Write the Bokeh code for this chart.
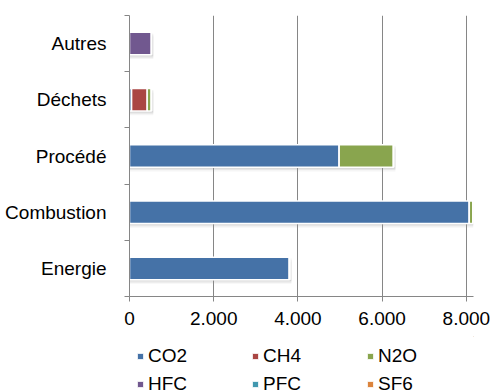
from bokeh.plotting import figure
from bokeh.layouts import column
from bokeh.models import (ColumnDataSource, Range1d, FixedTicker, Legend, LegendItem)
from bokeh.transform import dodge
from bokeh.embed import file_html
from bokeh.resources import INLINE

# Emissions by sector and gas
categories = ["Energie", "Combustion", "Procédé", "Déchets", "Autres"]
gases = ["CO2", "CH4", "N2O", "HFC", "PFC", "SF6"]
co2 = [3800, 8070, 4980, 50, 0]
ch4 = [0, 0, 0, 370, 0]
n2o = [0, 90, 1290, 100, 0]
hfc = [0, 0, 0, 0, 520]
pfc = [0, 0, 0, 0, 0]
sf6 = [0, 0, 0, 0, 0]
x_ticks = [0, 2000, 4000, 6000, 8000]
x_tick_labels = ["0", "2.000", "4.000", "6.000", "8.000"]

colors = ["#4572A7", "#AA4643", "#89A54E", "#71588F", "#4198AF", "#DB843D"]
FONT = "Liberation Sans"
GREY = "#868686"

y = [i + 0.5 for i in range(len(categories))]
total = [sum(v) for v in zip(co2, ch4, n2o, hfc, pfc, sf6)]
source = ColumnDataSource(dict(y=y, total=total, CO2=co2, CH4=ch4, N2O=n2o,
                               HFC=hfc, PFC=pfc, SF6=sf6))

p = figure(width=491, height=336, output_backend="svg", toolbar_location=None,
           x_range=Range1d(0, 8170), y_range=Range1d(0, len(categories)),
           min_border_left=129, min_border_right=18, min_border_top=15,
           min_border_bottom=40)
p.outline_line_color = None

# soft drop shadow under each bar
for off, alpha in [(-0.075, 0.10), (-0.05, 0.16), (-0.025, 0.2)]:
    p.hbar(y=dodge("y", off), left=0, right=dodge("total", 45), height=0.4,
           source=source, fill_color="#9a9a9a", fill_alpha=alpha, line_color=None)

p.hbar_stack(gases, y="y", height=0.4, color=colors, source=source,
             line_color="white", line_width=1.5)

# x axis
xa = p.xaxis[0]
xa.ticker = FixedTicker(ticks=x_ticks, minor_ticks=[])
xa.major_label_overrides = {t: s for t, s in zip(x_ticks, x_tick_labels)}
xa.axis_line_color = GREY
xa.major_tick_line_color = GREY
xa.major_tick_in = 0
xa.major_tick_out = 5
xa.major_label_standoff = 10
xa.major_label_text_font = FONT
xa.major_label_text_font_size = "19px"
xa.major_label_text_color = "black"

# y axis: names at band centres, ticks at band boundaries
ya = p.yaxis[0]
ya.ticker = FixedTicker(ticks=y, minor_ticks=list(range(len(categories) + 1)))
ya.major_label_overrides = {v: c for v, c in zip(y, categories)}
ya.axis_line_color = GREY
ya.major_tick_line_color = None
ya.major_tick_in = 0
ya.major_tick_out = 0
ya.minor_tick_line_color = GREY
ya.minor_tick_in = 0
ya.minor_tick_out = 5
ya.major_label_standoff = 18
ya.major_label_text_font = FONT
ya.major_label_text_font_size = "19px"
ya.major_label_text_color = "black"

p.xgrid.ticker = FixedTicker(ticks=x_ticks[1:])
p.xgrid.grid_line_color = GREY
p.xgrid.grid_line_width = 1
p.ygrid.grid_line_color = None

# legend strip under the chart (its frame lines up with the chart frame);
# its key renderers sit outside the visible ranges
lg = figure(width=491, height=56, output_backend="svg", toolbar_location=None,
            x_range=Range1d(-10, -5), y_range=Range1d(-10, -5),
            x_axis_location=None, y_axis_location=None, min_border=0)
lg.outline_line_color = None
lg.grid.grid_line_color = None
key_renderers = lg.hbar_stack(gases, y="y", height=0.4, color=colors, source=source,
                              line_color="white", line_width=1)

legend = Legend(items=[LegendItem(label=g, renderers=[r]) for g, r in zip(gases, key_renderers)],
                ncols=3, orientation="horizontal", location=(7, -3),
                glyph_width=8, glyph_height=8, label_standoff=4,
                label_width=97, label_height=22, spacing=6,
                label_text_font=FONT, label_text_font_size="19px",
                label_text_color="black", border_line_color=None,
                background_fill_alpha=0, padding=0, margin=0)
lg.add_layout(legend, "center")

open("out.html", "w").write(file_html(column(p, lg, spacing=0), INLINE))
